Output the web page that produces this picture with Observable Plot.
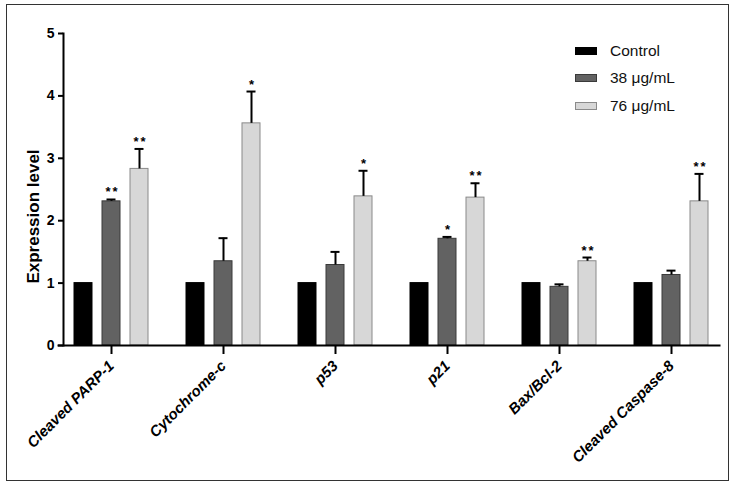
<!DOCTYPE html>
<html><head><meta charset="utf-8">
<script src="https://cdn.jsdelivr.net/npm/d3@7"></script>
<script src="https://cdn.jsdelivr.net/npm/@observablehq/plot@0.6"></script>
<style>
body{margin:0;background:#fff;font-family:"Liberation Sans",Arial,sans-serif}
#wrap{position:relative;width:736px;height:487px;overflow:hidden}
#chart{position:absolute;left:0;top:0}
#border{position:absolute;left:6px;top:4px;width:721px;height:475px;border:1.6px solid #333;pointer-events:none}
#legend{position:absolute;left:575px;top:37px}
.row{display:flex;align-items:center;height:27.6px;font-size:15.5px;color:#111}
.sw{width:20px;height:6px;margin-right:13px;box-sizing:content-box}
.stars text{letter-spacing:2px}
</style></head>
<body>
<div id="wrap"><div id="chart"></div><div id="border"></div><div id="legend"></div></div>
<script>
const categories = ["Cleaved PARP-1","Cytochrome-c","p53","p21","Bax/Bcl-2","Cleaved Caspase-8"];
const series = ["Control","38 μg/mL","76 μg/mL"];
const control = [1,1,1,1,1,1];
const controlErr = [0,0,0,0,0,0];
const dose38 = [2.31,1.35,1.29,1.71,0.94,1.13];
const dose38Err = [0.03,0.37,0.21,0.03,0.04,0.07];
const dose76 = [2.83,3.56,2.39,2.37,1.35,2.31];
const dose76Err = [0.32,0.51,0.41,0.23,0.06,0.44];
const sigControl = ["","","","","",""];
const sig38 = ["**","","","*","",""];
const sig76 = ["**","*","*","**","**","**"];
const yTicks = [0,1,2,3,4,5];

const fills = ["#000000","#626262","#d7d7d7"];
const strokes = ["#000000","#3a3a3a","#8a8a8a"];
const offsets = [-28,0,28];

const values = [control,dose38,dose76];
const errs = [controlErr,dose38Err,dose76Err];
const sigs = [sigControl,sig38,sig76];

const marks = [];
series.forEach((s, si) => {
  const rows = categories.map((c, i) => ({category:c, series:s, value:values[si][i], err:errs[si][i], sig:sigs[si][i]}));
  const withErr = rows.filter(d => d.err > 0);
  marks.push(Plot.barY(rows, {x:"category", y:"value", dx:offsets[si], insetLeft:47, insetRight:47, fill:fills[si], stroke:strokes[si], strokeWidth:1}));
  marks.push(Plot.ruleX(withErr, {x:"category", y1:"value", y2:d=>d.value+d.err, dx:offsets[si], stroke:"#000", strokeWidth:2}));
  marks.push(Plot.tickY(withErr, {x:"category", y:d=>d.value+d.err, dx:offsets[si], insetLeft:51.5, insetRight:51.5, stroke:"#000", strokeWidth:2}));
  marks.push(Plot.text(rows.filter(d => d.sig), {x:"category", y:d=>d.value+d.err, dx:offsets[si]+1, dy:-3, lineAnchor:"bottom", text:"sig", fontSize:13, fontWeight:"bold", fill:"#000", className:"stars"}));
});

const plot = Plot.plot({
  width:736, height:487,
  marginLeft:55, marginRight:8.4, marginTop:33, marginBottom:142,
  style:{fontFamily:'"Liberation Sans", Arial, sans-serif', background:"transparent", overflow:"visible"},
  x:{type:"band", domain:categories, padding:0},
  y:{domain:[0,5]},
  marks:[
    ...marks,
    Plot.frame({anchor:"left", dx:8, stroke:"#000", strokeWidth:2}),
    Plot.frame({anchor:"bottom", insetLeft:3, insetRight:8.6, stroke:"#000", strokeWidth:2}),
    Plot.axisY({ticks:yTicks, tickFormat:d3.format("d"), tickSize:5, tickPadding:4, dx:8, fontSize:14, fontWeight:"bold", label:null, strokeWidth:2, fill:"#000", color:"#000"}),
    Plot.axisX({tickSize:9, tickPadding:9, tickRotate:-45, fontSize:15, fontWeight:"bold", fontStyle:"italic", label:null, strokeWidth:2, fill:"#000"}),
    Plot.text(["Expression level"], {frameAnchor:"left", textAnchor:"middle", rotate:-90, dx:-22, dy:27, fontSize:17, fontWeight:"bold", fill:"#000"})
  ]
});
document.getElementById("chart").appendChild(plot);

const legend = document.getElementById("legend");
series.forEach((s, si) => {
  const row = document.createElement("div");
  row.className = "row";
  const sw = document.createElement("div");
  sw.className = "sw";
  sw.style.background = fills[si];
  sw.style.border = "1px solid " + strokes[si];
  const t = document.createElement("span");
  t.textContent = s;
  row.appendChild(sw); row.appendChild(t);
  legend.appendChild(row);
});
</script>
</body></html>
